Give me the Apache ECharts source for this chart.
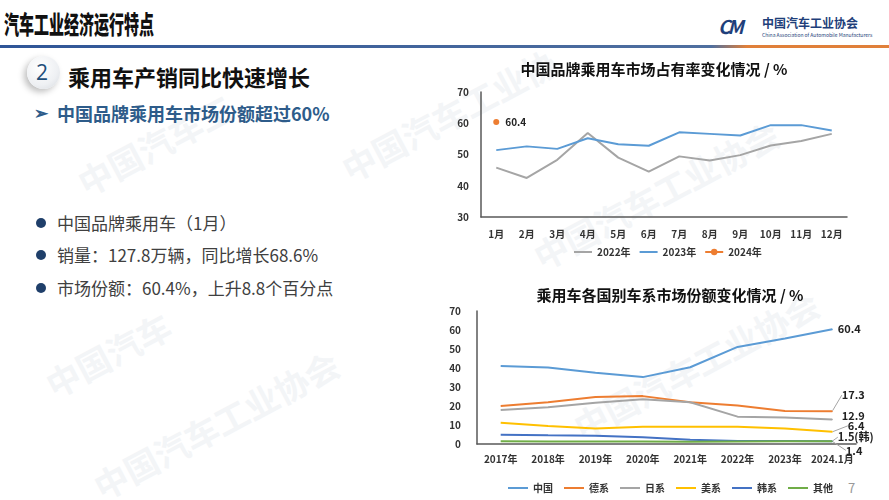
<!DOCTYPE html>
<html>
<head>
    <meta charset="utf-8">
    <script src="https://cdn.jsdelivr.net/npm/echarts@6/dist/echarts.min.js"></script>
    <style>
        body { margin: 0; background: #fff; font-family: 'Noto Sans CJK SC', sans-serif; }
        #slide { position: relative; width: 889px; height: 500px; overflow: hidden; background: #fff; }
        .abs { position: absolute; white-space: nowrap; }
        .wm { position: absolute; color: #f3f5f7; font-weight: bold; font-size: 34px; transform: rotate(-28deg); white-space: nowrap; }
    </style>
</head>
<body>
<div id="slide">
    <!-- 水印 -->
    <div class="wm" style="left:70px;top:120px;">中国汽车工</div>
    <div class="wm" style="left:330px;top:90px;">中国汽车工业协</div>
    <div class="wm" style="left:40px;top:330px;">中国汽车</div>
    <div class="wm" style="left:520px;top:170px;">中国汽车工业协会</div>
    <div class="wm" style="left:80px;top:400px;">中国汽车工业协会</div>
    <div class="wm" style="left:560px;top:340px;">中国汽车工业协会</div>

    <!-- 页眉 -->
    <div class="abs" style="left:4px;top:5px;font-size:25px;font-weight:900;color:#111;transform:scaleX(0.6);transform-origin:left top;">汽车工业经济运行特点</div>
    <div class="abs" style="left:0;top:45px;width:889px;height:3px;background:linear-gradient(to right,#2f5597 0%,#4f6f9f 80%,#e0803a 84%,#e0803a 100%);"></div>
    <div class="abs" style="left:718px;top:12px;font-size:19px;font-weight:bold;font-style:italic;color:#1f3f7a;letter-spacing:-3px;">CM</div>
    <div class="abs" style="left:762px;top:14px;font-size:12px;font-weight:bold;color:#1f3f7a;">中国汽车工业协会</div>
    <div class="abs" style="left:762px;top:31px;font-size:5px;color:#1f3f7a;">China Association of Automobile Manufacturers</div>

    <!-- 小标题 -->
    <div class="abs" style="left:27px;top:56px;width:33px;height:33px;border-radius:50%;background:radial-gradient(circle at 40% 35%,#ffffff 0%,#eef0f3 60%,#d5d9de 100%);box-shadow:-3px 3px 6px rgba(0,0,0,0.25);"></div>
    <div class="abs" style="left:36px;top:58px;font-size:21px;color:#1f4e79;font-family:'Open Sans',sans-serif;">2</div>
    <div class="abs" style="left:68px;top:60px;font-size:22px;font-weight:bold;color:#111;">乘用车产销同比快速增长</div>
    <div class="abs" style="left:34px;top:99px;font-size:17px;font-weight:bold;color:#2e5c8a;">➢</div>
    <div class="abs" style="left:57px;top:100px;font-size:18px;font-weight:bold;color:#2e5c8a;">中国品牌乘用车市场份额超过60%</div>

    <!-- 要点 -->
    <div class="abs" style="left:36px;top:218px;width:10px;height:10px;border-radius:50%;background:#1f3f6a;"></div>
    <div class="abs" style="left:57px;top:210px;font-size:17px;color:#404040;">中国品牌乘用车（1月）</div>
    <div class="abs" style="left:36px;top:250px;width:10px;height:10px;border-radius:50%;background:#1f3f6a;"></div>
    <div class="abs" style="left:57px;top:242px;font-size:17px;color:#404040;">销量：127.8万辆，同比增长68.6%</div>
    <div class="abs" style="left:36px;top:283px;width:10px;height:10px;border-radius:50%;background:#1f3f6a;"></div>
    <div class="abs" style="left:57px;top:275px;font-size:17px;color:#404040;">市场份额：60.4%，上升8.8个百分点</div>

    <div class="abs" style="left:848px;top:478px;font-size:13px;color:#999;">7</div>

    <div id="main" class="abs" style="left:0;top:0;width:889px;height:500px;"></div>
</div>

<script type="text/javascript">
    // 上图：中国品牌乘用车市场占有率
    var months = ['1月','2月','3月','4月','5月','6月','7月','8月','9月','10月','11月','12月'];
    var share2022 = [45.8, 42.5, 48.3, 56.9, 49.0, 44.5, 49.4, 48.1, 49.8, 52.9, 54.3, 56.6];
    var share2023 = [51.4, 52.6, 51.8, 55.2, 53.3, 52.8, 57.1, 56.6, 56.1, 59.4, 59.4, 57.7];
    var share2024 = [60.4];

    // 下图：各国别车系市场份额
    var years = ['2017年','2018年','2019年','2020年','2021年','2022年','2023年','2024.1月'];
    var china   = [41.0, 40.3, 37.5, 35.2, 40.4, 51.1, 55.5, 60.4];
    var germany = [20.0, 22.0, 24.7, 25.2, 22.0, 20.3, 17.4, 17.3];
    var japan   = [17.9, 19.3, 21.7, 23.6, 22.0, 14.4, 14.0, 12.9];
    var usa     = [11.2, 9.5, 8.1, 9.1, 9.1, 9.1, 8.2, 6.4];
    var korea   = [4.9, 4.6, 4.4, 3.5, 2.3, 1.6, 1.6, 1.5];
    var others  = [1.4, 1.3, 1.3, 1.3, 1.2, 1.3, 1.4, 1.4];

    var FONT = 'Noto Sans CJK SC';
    var axisLab = { color: '#333', fontSize: 10, fontWeight: 'bold', fontFamily: FONT };
    var axisLn = { show: true, lineStyle: { color: '#595959', width: 1.5 } };
    var legendText = { fontSize: 10, fontWeight: 'bold', color: '#333', fontFamily: FONT };

    // 最后一个点的标签
    function endLabel(arr, text) {
        return arr.map(function (v, i) {
            if (i !== arr.length - 1) return v;
            return {
                value: v,
                symbol: 'circle', symbolSize: 1,
                label: {
                    show: true, position: 'right', distance: 5,
                    formatter: text, color: '#222', fontSize: 11, fontWeight: 'bold', fontFamily: FONT
                }
            };
        });
    }

    function bottomLine(name, arr, text, dx, dy, color, leader) {
        var last = arr.length - 1;
        return {
            name: name, type: 'line', xAxisIndex: 1, yAxisIndex: 1,
            symbol: 'none', showSymbol: true,
            data: endLabel(arr, text),
            itemStyle: { color: color }, lineStyle: { width: 2, color: color },
            labelLayout: function (p) {
                if (p.dataIndex === last) return { dx: dx, dy: dy };
            },
            labelLine: { show: leader, lineStyle: { color: '#a5a5a5', width: 1 } }
        };
    }

    // 图例只画线
    function lineOnly(names) {
        return names.map(function (n) { return { name: n, itemStyle: { opacity: 0 } }; });
    }

    var myChart = echarts.init(document.getElementById('main'));
    var option = {
        animation: false,
        title: [{
            text: '中国品牌乘用车市场占有率变化情况 / %',
            left: 649, top: 57, textAlign: 'center',
            textStyle: { fontSize: 15, fontWeight: 'bold', color: '#111', fontFamily: FONT }
        }, {
            text: '乘用车各国别车系市场份额变化情况 / %',
            left: 665, top: 283, textAlign: 'center',
            textStyle: { fontSize: 15, fontWeight: 'bold', color: '#111', fontFamily: FONT }
        }],
        legend: [{
            data: lineOnly(['2022年', '2023年']).concat(['2024年']),
            left: 568, top: 242, itemWidth: 18, itemHeight: 8, itemGap: 8,
            textStyle: legendText
        }, {
            data: lineOnly(['中国', '德系', '日系', '美系', '韩系', '其他']),
            left: 502, top: 478, itemWidth: 20, itemHeight: 8, itemGap: 10,
            textStyle: legendText
        }],
        grid: [
            { left: 481, top: 92, width: 366, height: 125 },
            { left: 477, top: 311, width: 379, height: 133 }
        ],
        xAxis: [{
            gridIndex: 0, type: 'category', data: months, boundaryGap: true,
            axisLine: axisLn, axisTick: { show: false },
            axisLabel: Object.assign({ margin: 12, interval: 0 }, axisLab)
        }, {
            gridIndex: 1, type: 'category', data: years, boundaryGap: true,
            axisLine: axisLn, axisTick: { show: false },
            axisLabel: Object.assign({ margin: 10, interval: 0 }, axisLab)
        }],
        yAxis: [{
            gridIndex: 0, type: 'value', min: 30, max: 70, interval: 10,
            axisLine: axisLn, axisTick: { show: false }, splitLine: { show: false },
            axisLabel: Object.assign({ margin: 12 }, axisLab)
        }, {
            gridIndex: 1, type: 'value', min: 0, max: 70, interval: 10,
            axisLine: axisLn, axisTick: { show: false }, splitLine: { show: false },
            axisLabel: Object.assign({ margin: 16 }, axisLab)
        }],
        series: [{
            name: '2022年', type: 'line', xAxisIndex: 0, yAxisIndex: 0,
            data: share2022, symbol: 'none', itemStyle: { color: '#a5a5a5' }, lineStyle: { width: 2 }
        }, {
            name: '2023年', type: 'line', xAxisIndex: 0, yAxisIndex: 0,
            data: share2023, symbol: 'none', itemStyle: { color: '#5b9bd5' }, lineStyle: { width: 2 }
        }, {
            name: '2024年', type: 'line', xAxisIndex: 0, yAxisIndex: 0,
            data: share2024, symbol: 'circle', symbolSize: 6, itemStyle: { color: '#ed7d31' }, lineStyle: { width: 2 },
            label: { show: true, position: 'right', distance: 6, color: '#222', fontSize: 10, fontWeight: 'bold', fontFamily: FONT }
        },
            bottomLine('中国', china, '60.4', 0, 0, '#5b9bd5', false),
            bottomLine('德系', germany, '17.3', 4, -16, '#ed7d31', true),
            bottomLine('日系', japan, '12.9', 4, -4, '#a5a5a5', false),
            bottomLine('美系', usa, '6.4', 10, -6, '#ffc000', true),
            bottomLine('韩系', korea, '1.5(韩)', 0, -4, '#4472c4', true),
            bottomLine('其他', others, '1.4', 8, 9, '#70ad47', true)
        ]
    };

    myChart.setOption(option);
</script>
</body>
</html>
